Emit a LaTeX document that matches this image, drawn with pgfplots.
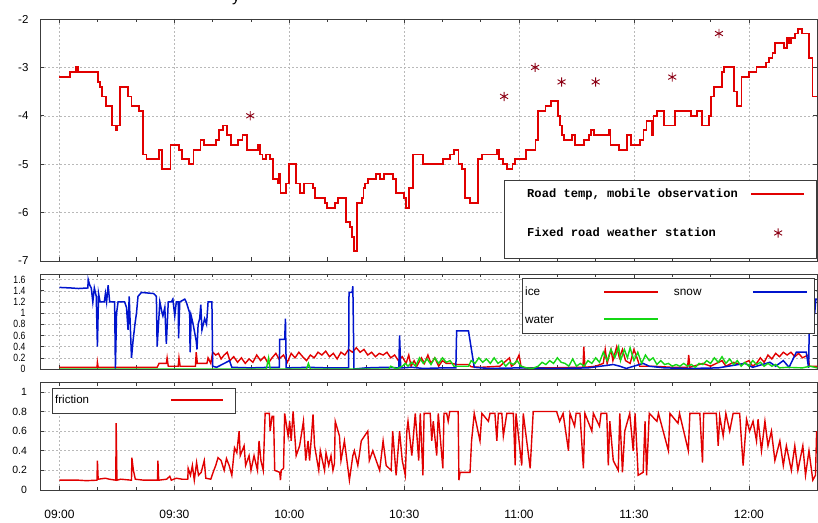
\documentclass[border=0pt]{standalone}
\usepackage{fontspec}
\setmainfont{Liberation Sans}
\newfontfamily\legmono{Liberation Mono}
\newfontfamily\narrowsans{Liberation Sans}[FakeStretch=0.82]
\usepackage{pgfplots}
\pgfplotsset{compat=1.18}
\definecolor{tred}{RGB}{225,0,0}
\definecolor{sred}{RGB}{140,0,20}
\definecolor{sblue}{RGB}{0,20,205}
\definecolor{sgreen}{RGB}{20,215,20}
\definecolor{frame}{RGB}{60,60,60}
\pgfplotsset{
  panel/.style={
    scale only axis, width=777pt,
    xmin=-5.09, xmax=197.8,
    xtick={0,30,60,90,120,150,180},
    minor x tick num=2,
    xmajorgrids, ymajorgrids,
    grid style={dash pattern=on 2pt off 2pt, gray!55, line width=0.5pt},
    axis line style={frame, line width=0.8pt},
    tick style={frame, line width=0.6pt},
    major tick length=4pt, minor tick length=3.5pt,
    /pgf/number format/assume math mode=true,
    legend plot pos=right,
  },
  toplineleg/.style={legend image code/.code={\path (0pt,-21pt) (64pt,16.5pt);
    \draw[draw=tred, line width=1.8pt] (0pt,3.5pt) -- (53pt,3.5pt);}},
  topstarleg/.style={legend image code/.code={\path (0pt,-21pt) (64pt,16.5pt);
    \path[draw=sred, line width=0.9pt] plot[mark=asterisk, mark size=4.6pt, only marks] coordinates {(27pt,3.5pt)};}},
  redleg/.style={legend image code/.code={\path (0pt,-9pt) (60pt,17pt);
    \draw[draw=tred, line width=2pt] (0pt,4pt) -- (54pt,4pt);}},
  blueleg/.style={legend image code/.code={\path (0pt,-9pt) (60pt,17pt);
    \draw[draw=sblue, line width=2pt] (0pt,4pt) -- (54pt,4pt);}},
  greenleg/.style={legend image code/.code={\path (0pt,-9pt) (60pt,17pt);
    \draw[draw=sgreen, line width=2.2pt] (0pt,4pt) -- (54pt,4pt);}},
  botleg/.style={legend image code/.code={\path (0pt,-9pt) (63pt,15pt);
    \draw[draw=tred, line width=1.8pt] (0pt,4pt) -- (52pt,4pt);}},
}
\begin{document}
\begin{tikzpicture}
\useasboundingbox (0,0) rectangle (818pt,522pt);
\node[anchor=base, font=\fontsize{16}{16}\selectfont] at (236pt,520.5pt) {y};
% ---------------- top panel: road temperature
\begin{axis}[panel, at={(40pt,261pt)}, anchor=south west, height=242pt,
  ymin=-7, ymax=-2, ytick={-7,-6,-5,-4,-3,-2},
  xticklabels={},
  yticklabel style={font=\fontsize{11.5}{12}\selectfont, xshift=-8pt},
  legend style={draw=frame, fill=white, inner xsep=0pt, inner ysep=0pt,
    nodes={inner sep=0pt, text depth=0pt, anchor=base west}, cells={anchor=base west},
    at={(0.5972,0.3347)}, anchor=north west,
    font=\legmono\bfseries\fontsize{12.1}{12}\selectfont},
]
\addplot[const plot, color=tred, line width=1.8pt, toplineleg] table {
x y
0 -3.2
2.7 -3.1
4.3 -3.0
4.9 -3.1
10.0 -3.3
10.6 -3.4
11.1 -3.6
12.1 -3.8
13.8 -4.2
14.6 -4.3
15.0 -4.2
15.7 -3.4
17.8 -3.6
18.8 -3.8
20.8 -3.9
21.8 -4.8
22.7 -4.9
25.9 -4.7
26.8 -5.1
29.0 -4.6
31.3 -4.7
32.0 -4.9
33.8 -5.0
35.0 -4.7
36.8 -4.5
37.8 -4.6
40.9 -4.5
41.7 -4.3
42.6 -4.2
43.8 -4.4
44.7 -4.6
46.6 -4.5
47.8 -4.4
48.9 -4.7
51.9 -4.6
52.3 -4.8
53.0 -4.9
54.0 -4.8
54.9 -4.9
55.8 -5.3
57.0 -5.4
57.4 -5.2
57.7 -5.6
59.1 -5.4
59.9 -5.0
61.7 -5.4
62.7 -5.6
63.8 -5.4
66.2 -5.5
66.7 -5.7
69.3 -5.8
69.8 -5.9
71.9 -5.8
72.8 -5.7
74.9 -6.2
75.8 -6.3
76.3 -6.5
76.8 -6.8
77.7 -5.8
78.9 -5.7
79.4 -5.5
79.8 -5.4
80.5 -5.3
82.6 -5.2
83.6 -5.3
84.7 -5.2
87.1 -5.3
87.8 -5.6
89.9 -5.7
90.5 -5.9
91.2 -5.5
92.3 -4.8
94.9 -5.0
100.2 -4.9
102.0 -4.8
103.0 -4.7
104.2 -5.0
105.0 -5.1
105.9 -5.7
107.1 -5.8
109.2 -4.9
110.4 -4.8
114.2 -4.7
114.8 -4.9
115.8 -5.0
116.8 -5.1
118.3 -5.0
119.0 -4.9
121.9 -4.7
124.3 -4.5
124.9 -3.9
126.9 -3.8
128.3 -3.7
130.1 -4.0
130.6 -4.2
131.3 -4.4
131.8 -4.5
133.8 -4.4
134.6 -4.6
136.9 -4.5
138.3 -4.4
138.8 -4.3
139.6 -4.4
143.4 -4.3
143.9 -4.6
146.1 -4.7
148.2 -4.4
149.2 -4.6
151.6 -4.5
152.5 -4.3
153.3 -4.1
154.7 -4.4
155.1 -4.0
156.1 -3.9
157.9 -4.2
160.8 -3.9
165.0 -4.0
166.4 -3.9
167.8 -4.2
169.6 -4.0
170.1 -3.6
170.9 -3.4
173.0 -3.1
173.5 -3.0
176.2 -3.5
176.9 -3.8
178.1 -3.2
180.0 -3.1
182.0 -3.0
184.4 -2.9
185.3 -2.8
186.2 -2.7
186.9 -2.5
189.1 -2.6
189.9 -2.4
190.5 -2.5
191.1 -2.4
192.0 -2.3
192.8 -2.2
193.9 -2.3
195.8 -2.8
196.6 -3.6
197.8 -3.6
};
\addlegendentry{\makebox[246pt][l]{\hspace*{23pt}\rule[-21pt]{0pt}{37.5pt}Road temp, mobile observation}}
\addplot[only marks, mark=asterisk, mark size=4.6pt, color=sred, line width=0.9pt, topstarleg] table {
x y
49.8 -4.0
116.1 -3.6
124.2 -3.0
131.1 -3.3
140.0 -3.3
160.0 -3.2
172.2 -2.3
};
\addlegendentry{\makebox[246pt][l]{\hspace*{23pt}\rule[-21pt]{0pt}{37.5pt}Fixed road weather station}}
\end{axis}
% ---------------- middle panel: ice / snow / water
\begin{axis}[panel, at={(40pt,153pt)}, anchor=south west, height=95pt,
  ymin=0, ymax=1.7, ytick={0,0.2,0.4,0.6,0.8,1,1.2,1.4,1.6},
  xticklabels={},
  yticklabel style={font=\narrowsans\fontsize{10.5}{10}\selectfont, xshift=-11pt},
  legend columns=2,
  legend style={draw=frame, fill=white, inner xsep=0pt, inner ysep=0pt,
    nodes={inner sep=0pt, text depth=0pt, anchor=base west}, cells={anchor=base west},
    at={(0.6203,0.958)}, anchor=north west,
    font=\fontsize{11.8}{12}\selectfont},
]
\addplot[sharp plot, color=tred, line width=1.4pt, redleg] table {
x y
0 0.03
9.8 0.03
9.9 0.12
10.1 0.03
25.5 0.03
26 0.1
27.9 0.1
28.1 0.2
28.4 0.05
31.0 0.05
31.2 0.2
31.5 0.05
35.5 0.05
35.7 0.3
36 0.1
38.5 0.1
38.8 0.2
39.5 0.1
40.0 0.3
40.8 0.25
41.5 0.28
42.2 0.18
43 0.25
43.8 0.3
44.5 0.15
45.5 0.22
46.5 0.12
47.5 0.2
48.5 0.1
49.5 0.18
50.5 0.12
51.5 0.25
52.5 0.15
53.5 0.22
54.5 0.1
55.5 0.2
56.5 0.28
57.3 0.18
58.5 0.25
59.5 0.12
60.5 0.28
61.5 0.2
62.5 0.3
63.5 0.22
64.5 0.15
65.5 0.25
66.5 0.2
67.5 0.3
68.5 0.25
69.5 0.32
70.5 0.22
71.5 0.28
72.5 0.18
73.5 0.3
74.5 0.25
75.5 0.35
76.5 0.3
77.5 0.38
78.5 0.3
79.5 0.35
80.5 0.25
81.5 0.3
82.5 0.22
83.5 0.28
84.5 0.25
85.5 0.3
86.5 0.2
87.5 0.25
88.5 0.15
89.5 0.22
90.5 0.1
91.2 0.25
91.8 0.05
92.6 0.15
93.3 0.05
94.5 0.2
95.3 0.1
96.2 0.25
97 0.1
98 0.2
99 0.05
100 0.15
101 0.1
102.5 0.1
103.7 0.08
106.8 0.08
107.5 0.04
110 0.03
115 0.05
117.5 0.2
118 0.05
119 0.1
120 0.25
120.5 0.05
121.5 0.02
128 0.02
135 0.03
136.7 0.03
136.9 0.4
137.2 0.03
140 0.05
142 0.1
142.5 0.35
143 0.1
144 0.35
144.5 0.15
145.5 0.4
146.2 0.2
147 0.35
147.8 0.15
149 0.1
150 0.35
150.8 0.2
151.5 0.05
155 0.05
160 0.03
164 0.03
164.3 0.25
164.6 0.03
168 0.1
170 0.05
173 0.15
174 0.05
176 0.12
178 0.08
180 0.15
181 0.05
182 0.1
183 0.2
184 0.12
185 0.25
186 0.18
187 0.28
188 0.22
189 0.3
190 0.25
191 0.3
192 0.22
193 0.28
194 0.2
195.5 0.25
195.8 0.05
197.8 0.05
};
\addlegendentry{\makebox[81pt][l]{\hspace*{3pt}\rule[-9pt]{0pt}{26pt}ice}}
\addplot[sharp plot, color=sblue, line width=1.5pt, blueleg] table {
x y
0 1.46
3 1.45
5 1.44
7.4 1.45
7.5 1.6
7.9 1.5
8.3 1.45
8.7 1.2
9.1 1.45
9.6 1.3
9.9 0.4
10.2 1.35
10.6 1.2
11.7 1.2
12 1.35
12.3 1.2
12.7 1.5
13.1 1.2
14.4 1.2
14.6 0
14.9 1.0
15.3 1.2
17.0 1.2
17.5 1.1
17.9 0.7
18.2 1.3
18.8 0.2
19.2 0.5
19.7 0.8
20.1 1.0
20.5 1.3
21.4 1.37
24.6 1.35
25.3 1.3
25.5 0.4
26.2 1.2
26.8 1.0
27.0 0.95
27.5 1.1
27.9 0.45
28.4 1.2
29.2 1.2
29.6 1.25
30.1 0.95
30.5 1.2
31.0 1.2
31.1 0.55
31.4 1.2
32.7 1.25
33.1 1.2
34.0 1.0
34.1 0.3
34.4 0.95
34.9 0.8
35.7 0.5
35.9 0.35
36.2 0.8
36.6 0.9
36.9 1.15
37.2 0.7
37.9 0.9
38.4 0.8
38.8 1.2
39.8 1.2
40.0 0.05
41 0.03
43 0.1
44.4 0.15
45 0.03
50 0.02
55 0.03
57.4 0.03
57.5 0.53
58.8 0.53
59.0 0.9
59.2 0.02
65 0.03
70 0.02
75.5 0.02
75.6 1.37
76.4 1.37
76.6 1.48
76.9 0.0
80 0.02
85 0.03
88.6 0.02
88.8 0.6
89.1 0.02
92 0.03
95 0.01
100 0.02
103.5 0.02
103.7 0.68
106.8 0.68
108.3 0.03
112 0.01
120 0.02
130 0.01
138 0.02
144.6 0.08
146.3 0.05
148 0.01
152.4 0.1
154 0.05
158 0.02
165 0.01
172 0.02
179 0.1
181 0.03
185.5 0.12
187 0.05
189 0.15
190.5 0.03
192.4 0.3
195 0.3
195.6 0.02
195.8 0.8
197.2 1.0
197.5 1.25
197.8 1.25
};
\addlegendentry{\makebox[87pt][l]{\hspace*{9pt}\rule[-9pt]{0pt}{26pt}snow}}
\addplot[sharp plot, color=sgreen, line width=1.4pt, greenleg] table {
x y
0 0
54 0
54.6 0.2
55 0
64.5 0
65 0.1
65.5 0
86 0
86.5 0.05
88 0
89.5 0.05
90.3 0.1
91 0.05
92 0.12
93 0.05
94 0.2
95 0.1
96 0.18
97 0.08
98 0.2
99 0.1
100 0.2
101 0.12
102 0.15
103 0.05
106.8 0.05
107.5 0.15
108.5 0.1
109.5 0.2
110.5 0.12
111.5 0.18
112.5 0.1
113.5 0.2
114.5 0.1
115.5 0.15
116.5 0.05
117.5 0.12
118.5 0.08
119.5 0.15
120.5 0.05
122 0.02
123.5 0.01
125 0.05
126 0.12
127 0.08
128 0.15
129 0.1
130 0.2
131 0.12
132 0.1
133 0.05
134 0.18
135 0.05
136 0.1
137 0.05
138 0.15
139 0.1
140 0.2
141 0.12
142 0.3
143 0.15
144 0.35
145 0.2
146 0.4
146.5 0.15
147.5 0.35
148.3 0.2
149 0.38
150 0.15
151 0.3
152 0.1
153 0.25
154 0.15
155 0.2
156 0.08
157 0.15
158 0.08
159 0.1
160 0.05
161 0.08
162 0.05
163 0.1
164 0.05
165 0.08
166 0.03
167 0.1
168 0.08
169 0.15
170 0.1
171 0.2
172 0.12
173 0.22
174 0.1
175 0.18
176 0.08
177 0.15
178 0.05
179 0.12
180 0.05
181 0.15
182 0.08
183 0.12
184 0.05
185 0.1
186 0.05
187 0.08
188 0.02
190 0.03
194 0.02
196 0.05
197.8 0.02
};
\addlegendentry{\makebox[81pt][l]{\hspace*{3pt}\rule[-9pt]{0pt}{26pt}water}}
\end{axis}
% ---------------- bottom panel: friction
\begin{axis}[panel, at={(40pt,32pt)}, anchor=south west, height=108pt,
  ymin=0, ymax=1.1, ytick={0,0.2,0.4,0.6,0.8,1},
  xticklabels={09:00,09:30,10:00,10:30,11:00,11:30,12:00},
  xticklabel style={font=\fontsize{12}{12}\selectfont, yshift=-17pt},
  yticklabel style={font=\fontsize{10.5}{11}\selectfont, xshift=-9.5pt},
  legend style={draw=frame, fill=white, inner xsep=0pt, inner ysep=0pt,
    nodes={inner sep=0pt, text depth=0pt, anchor=base west}, cells={anchor=base west},
    at={(0.01544,0.944)}, anchor=north west,
    font=\fontsize{11.5}{12}\selectfont},
]
\addplot[sharp plot, color=tred, line width=1.4pt, botleg] table {
x y
0 0.1
5 0.1
7 0.095
9.8 0.1
9.9 0.3
10.1 0.11
12 0.12
13 0.11
14.7 0.1
14.8 0.68
15.0 0.1
16 0.11
18.8 0.1
18.9 0.33
19.3 0.2
19.8 0.11
22 0.1
25.6 0.1
25.7 0.3
25.9 0.1
28 0.11
28.8 0.14
29.2 0.1
30.5 0.12
32 0.11
33.5 0.11
33.6 0.22
34.2 0.15
34.7 0.25
35.2 0.1
35.8 0.28
36.3 0.15
37 0.18
37.8 0.3
38.2 0.12
39.5 0.11
40.3 0.2
40.8 0.25
41.4 0.33
42.2 0.3
43 0.2
43.6 0.32
44.3 0.25
45 0.15
45.7 0.43
46.3 0.38
46.9 0.6
47.2 0.35
48.2 0.45
48.6 0.25
49.5 0.35
50 0.2
50.8 0.35
51.7 0.2
52.1 0.5
52.6 0.3
53.2 0.2
53.7 0.78
54.8 0.78
55 0.6
55.5 0.75
55.9 0.75
56.2 0.2
57.5 0.18
57.7 0.1
57.9 0.2
58.5 0.22
58.8 0.78
59.7 0.55
60.1 0.7
60.5 0.5
61 0.8
61.8 0.35
62.7 0.45
63.1 0.55
63.7 0.7
64.3 0.3
64.9 0.5
65.3 0.3
65.8 0.55
66.2 0.77
66.6 0.45
67.7 0.2
68.1 0.4
69.2 0.2
69.6 0.38
70.3 0.25
70.9 0.35
71.4 0.2
71.8 0.27
72.0 0.7
73.1 0.55
73.5 0.3
74.4 0.5
75.7 0.1
76.6 0.35
77 0.4
77.9 0.25
78.8 0.5
80.5 0.6
80.9 0.3
81.8 0.4
83.6 0.2
84.5 0.5
85.3 0.25
86.6 0.2
87 0.6
87.9 0.15
88.8 0.6
89.5 0.3
90.3 0.15
90.7 0.6
91.0 0.7
92.0 0.35
92.9 0.78
93.8 0.3
94.2 0.78
94.9 0.15
95.2 0.78
96.8 0.78
97.2 0.5
97.6 0.7
98.5 0.35
98.9 0.78
100.1 0.22
100.4 0.78
101.1 0.78
101.5 0.7
101.9 0.8
104.1 0.8
104.3 0.1
104.6 0.18
107.2 0.18
107.6 0.5
108.3 0.78
109.8 0.5
110.3 0.78
112.0 0.7
112.4 0.78
113.7 0.78
114.2 0.5
114.6 0.78
115.5 0.78
115.9 0.55
116.8 0.78
118.5 0.78
119.0 0.25
119.2 0.78
120.7 0.25
121.1 0.78
122.9 0.22
123.7 0.8
129.8 0.8
130.6 0.7
131.5 0.78
132.9 0.4
133.3 0.78
134.5 0.65
134.9 0.78
135.9 0.78
136.8 0.22
137.2 0.78
139.0 0.6
139.4 0.78
141.0 0.65
141.4 0.78
142.9 0.78
143.3 0.25
143.7 0.7
144.6 0.3
145.9 0.2
146.3 0.78
147 0.18
147.6 0.6
148.9 0.78
149.8 0.4
150.3 0.78
151.1 0.15
152.4 0.18
152.9 0.7
153.3 0.15
154 0.78
156.0 0.7
156.4 0.78
159 0.4
159.4 0.78
161.5 0.68
161.9 0.78
164.2 0.4
164.6 0.78
167.2 0.78
167.9 0.28
168.2 0.78
171.5 0.78
172 0.45
172.4 0.75
173.3 0.55
174 0.78
175 0.6
175.9 0.78
177.6 0.78
178.5 0.25
179.4 0.72
180.2 0.6
181.1 0.7
182 0.5
182.4 0.72
183.3 0.4
184.2 0.7
185 0.45
185.9 0.6
186.8 0.3
188.1 0.5
189 0.25
189.8 0.45
191.1 0.2
192 0.45
192.8 0.2
194.1 0.45
194.8 0.15
195.7 0.4
196.7 0.1
197.4 0.15
197.7 0.6
};
\addlegendentry{\makebox[118pt][l]{\hspace*{3pt}\rule[-9pt]{0pt}{24pt}friction}}
\end{axis}
\end{tikzpicture}
\end{document}
